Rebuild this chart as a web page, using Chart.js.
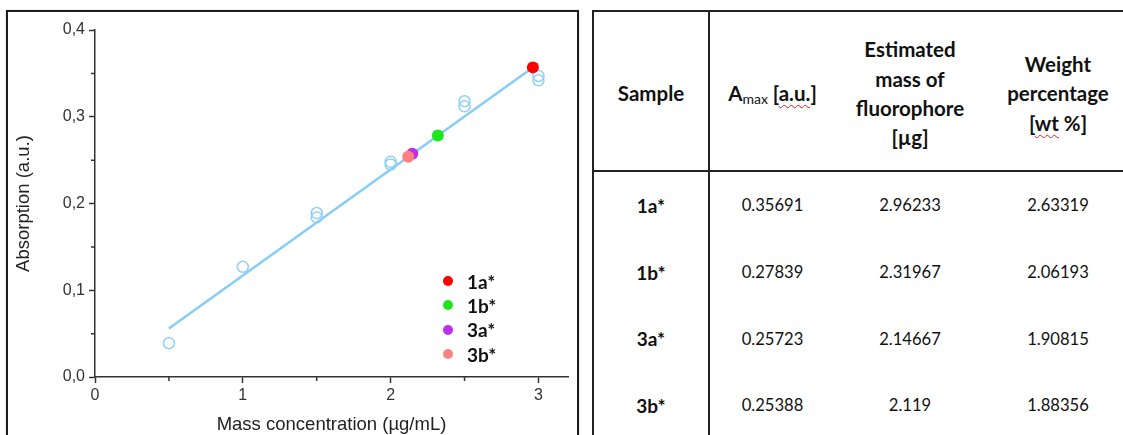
<!DOCTYPE html>
<html>
<head>
<meta charset="utf-8">
<script src="https://cdn.jsdelivr.net/npm/chart.js@4.4.1/dist/chart.umd.min.js"></script>
<style>
  html, body { margin:0; padding:0; background:#fff; width:1123px; height:435px; overflow:hidden; }
  #frame { position:absolute; left:6px; top:10px; width:569px; height:440px; border:2px solid #1e1e1e; box-shadow:0 0 1px #999; }
  #chartBox { position:absolute; left:0; top:0; width:580px; height:435px; }
  #legend { position:absolute; left:443px; top:269px; font-family:Lato, "Open Sans", sans-serif; font-weight:700; font-size:19px; color:#111; }
  .li { display:flex; align-items:center; height:24.3px; }
  .dot { width:10px; height:10px; border-radius:50%; margin-right:14px; }
  .ln { position:absolute; background:#222; }
  .cell { position:absolute; display:flex; align-items:center; justify-content:center; text-align:center; font-family:Lato, "Open Sans", sans-serif; color:#111; }
  .hd { font-weight:700; font-size:20.5px; line-height:29.3px; }
  .bd { font-size:16.6px; }
  .bd.b { font-weight:700; font-size:19px; }
  .sp { text-decoration: underline wavy #e02020; text-decoration-thickness:1px; text-underline-offset:3px; }
  sub { font-size:14px; font-weight:400; vertical-align:-3px; line-height:0; }
</style>
</head>
<body>
<div id="frame"></div>
<div id="chartBox"><canvas id="c" width="580" height="435"></canvas></div>
<div id="legend"></div>
<div id="table"></div>
<script>
// ---- data ----
const xTicks = [0, 1, 2, 3];
const xTickLabels = ['0', '1', '2', '3'];
const yTicks = [0, 0.1, 0.2, 0.3, 0.4];
const yTickLabels = ['0,0', '0,1', '0,2', '0,3', '0,4'];
const xMinor = [0.5, 1.5, 2.5];
const yMinor = [0.05, 0.15, 0.25, 0.35];

const stdConc = [0.5, 1, 1.5, 1.5, 2, 2, 2.5, 2.5, 3, 3];
const stdAbs  = [0.039, 0.127, 0.184, 0.189, 0.245, 0.248, 0.312, 0.318, 0.342, 0.347];

const fitX = [0.5, 3];
const fitY = [0.056, 0.3615];

const samples = ['1a*', '1b*', '3a*', '3b*'];
const sampleAbs  = [0.35691, 0.27839, 0.25723, 0.25388];
const sampleMass = [2.96233, 2.31967, 2.14667, 2.119];
const sampleWt   = [2.63319, 2.06193, 1.90815, 1.88356];
const sampleColors = ['#ff0000', '#1ee61e', '#bb2ff2', '#ff8080'];

const xTitle = 'Mass concentration (µg/mL)';
const yTitle = 'Absorption (a.u.)';

// ---- chart ----
const minorTicks = {
  id: 'minorTicks',
  afterDraw(chart) {
    const { ctx, chartArea: a, scales: { x, y } } = chart;
    ctx.save();
    ctx.strokeStyle = '#333';
    ctx.lineWidth = 1.5;
    ctx.beginPath();
    xMinor.forEach(v => { const p = x.getPixelForValue(v); ctx.moveTo(p, a.bottom); ctx.lineTo(p, a.bottom + 4); });
    yMinor.forEach(v => { const p = y.getPixelForValue(v); ctx.moveTo(a.left, p); ctx.lineTo(a.left - 4, p); });
    ctx.stroke();
    ctx.restore();
  }
};

const datasets = [
  {
    label: 'fit', data: fitX.map((x, i) => ({ x, y: fitY[i] })),
    showLine: true, borderColor: '#86cdf7', borderWidth: 2.5, pointRadius: 0, fill: false, order: 10
  },
  {
    label: 'standards', data: stdConc.map((x, i) => ({ x, y: stdAbs[i] })),
    pointRadius: 5.5, pointStyle: 'circle', backgroundColor: 'rgba(0,0,0,0)',
    borderColor: '#8fd0f8', borderWidth: 1.5, order: 9
  }
];
samples.forEach((s, i) => {
  datasets.push({
    label: s, data: [{ x: sampleMass[i], y: sampleAbs[i] }],
    pointRadius: 6, backgroundColor: sampleColors[i], borderColor: sampleColors[i], borderWidth: 0,
    order: 4 - i
  });
});

const tickFont = { family: '"Liberation Sans", Arial, sans-serif', size: 16 };
const titleFont = { family: '"Liberation Sans", Arial, sans-serif', size: 18.5, lineHeight: 1 };

new Chart(document.getElementById('c'), {
  type: 'scatter',
  data: { datasets },
  options: {
    responsive: false,
    animation: false,
    devicePixelRatio: 1,
    layout: { padding: { top: 30, right: 12, left: 0, bottom: 0 } },
    plugins: { legend: { display: false }, tooltip: { enabled: false } },
    scales: {
      x: {
        type: 'linear', min: 0, max: 3.2,
        afterBuildTicks: s => { s.ticks = xTicks.map(v => ({ value: v })); },
        afterFit: s => { s.height = 58; },
        ticks: { callback: (v, i) => xTickLabels[i], font: tickFont, color: '#333', padding: 3, maxRotation: 0 },
        grid: { drawOnChartArea: false, drawTicks: true, tickLength: 6, tickWidth: 1.5, tickColor: '#333' },
        border: { display: true, color: '#333', width: 1.5 },
        title: { display: true, text: xTitle, font: titleFont, color: '#222', padding: { top: 0, bottom: 1 } }
      },
      y: {
        type: 'linear', min: 0, max: 0.4,
        afterBuildTicks: s => { s.ticks = yTicks.map(v => ({ value: v })); },
        afterFit: s => { s.width = 95; },
        ticks: { callback: (v, i) => yTickLabels[i], font: tickFont, color: '#333', padding: 4 },
        grid: { drawOnChartArea: false, drawTicks: true, tickLength: 6, tickWidth: 1.5, tickColor: '#333' },
        border: { display: true, color: '#333', width: 1.5 },
        title: { display: true, text: yTitle, font: titleFont, color: '#222', padding: { top: 15, bottom: 0 } }
      }
    }
  },
  plugins: [minorTicks]
});

// ---- legend (HTML) ----
const legend = document.getElementById('legend');
samples.forEach((s, i) => {
  const d = document.createElement('div');
  d.className = 'li';
  d.innerHTML = '<span class="dot" style="background:' + sampleColors[i] + '"></span><span>' + s + '</span>';
  legend.appendChild(d);
});

// ---- table ----
const T = document.getElementById('table');
function line(l, t, w, h) { const d = document.createElement('div'); d.className = 'ln'; Object.assign(d.style, { left: l + 'px', top: t + 'px', width: w + 'px', height: h + 'px' }); T.appendChild(d); }
function cell(l, t, w, h, cls, html) { const d = document.createElement('div'); d.className = 'cell ' + cls; Object.assign(d.style, { left: l + 'px', top: t + 'px', width: w + 'px', height: h + 'px' }); d.innerHTML = '<div>' + html + '</div>'; T.appendChild(d); }
line(592, 10, 540, 2);
line(592, 170, 540, 2);
line(592, 10, 2, 430);
line(708, 10, 2, 430);
const colL = [594, 710, 835, 985];
const colW = [114, 125, 150, 146];
const headers = [
  'Sample',
  'A<sub>max</sub> [<span class="sp">a.u.</span>]',
  'Estimated<br>mass of<br>fluorophore<br>[µg]',
  'Weight<br>percentage<br>[<span class="sp">wt</span> %]'
];
headers.forEach((h, j) => cell(colL[j], 18, colW[j], 152, 'hd', h));
samples.forEach((s, i) => {
  const top = 172 + i * 66.7;
  cell(colL[0], top, colW[0], 66.7, 'bd b', s);
  cell(colL[1], top, colW[1], 66.7, 'bd', String(sampleAbs[i]));
  cell(colL[2], top, colW[2], 66.7, 'bd', String(sampleMass[i]));
  cell(colL[3], top, colW[3], 66.7, 'bd', String(sampleWt[i]));
});
</script>
</body>
</html>
